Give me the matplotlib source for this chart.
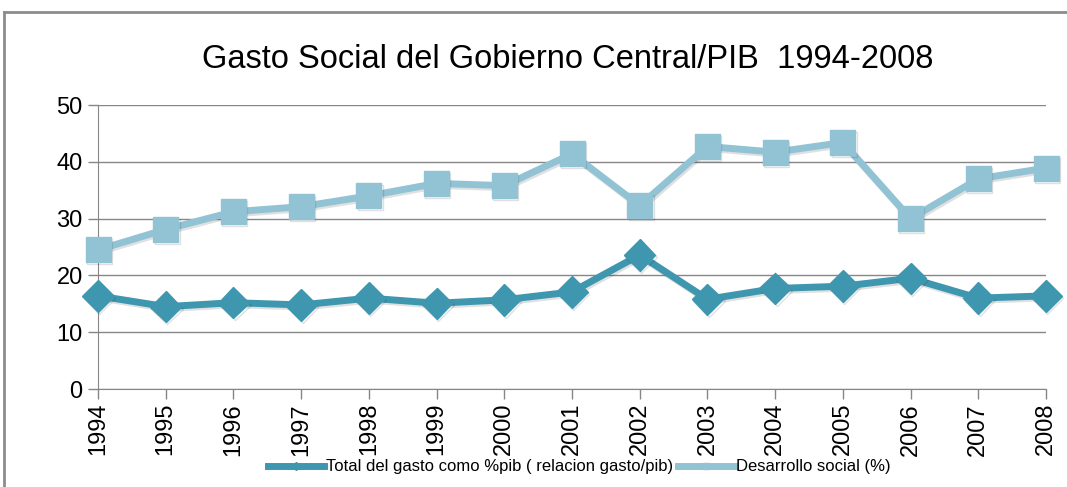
import matplotlib
matplotlib.use("Agg")
import matplotlib.pyplot as plt
import matplotlib.patheffects as pe
from matplotlib.lines import Line2D

years = list(range(1994, 2009))
total_gasto = [16.4, 14.5, 15.2, 14.8, 16.0, 15.1, 15.7, 17.1, 23.6, 15.8, 17.7, 18.1, 19.5, 16.0, 16.4]
desarrollo = [24.5, 28.1, 31.2, 32.1, 34.0, 36.2, 35.8, 41.4, 32.3, 42.7, 41.7, 43.4, 30.0, 37.0, 38.9]
yticks = [0, 10, 20, 30, 40, 50]

labels = ["Total del gasto como %pib ( relacion gasto/pib)", "Desarrollo social (%)"]
c_dark = "#3f97af"
c_light = "#92c3d5"
plt.rcParams["font.family"] = ["Liberation Sans Narrow", "Liberation Sans", "DejaVu Sans"]

fig = plt.figure(figsize=(10.67, 4.87), dpi=100)
ax = fig.add_axes([98 / 1067, 1 - 389 / 487, (1046 - 98) / 1067, (389 - 105) / 487])

shadow = [pe.SimpleLineShadow(offset=(1, -1.5), alpha=0.12, shadow_color="black"), pe.Normal()]
ax.plot(years, desarrollo, color=c_light, lw=5, marker="s", ms=18, mec=c_light,
        clip_on=False, zorder=3, path_effects=shadow)
ax.plot(years, total_gasto, color=c_dark, lw=5, marker="D", ms=16, mec=c_dark,
        clip_on=False, zorder=4, path_effects=shadow)

ax.set_xlim(years[0], years[-1])
ax.set_ylim(0, 50)
ax.set_yticks(yticks)
ax.set_xticks(years)
ax.set_xticklabels([str(y) for y in years], rotation=90, fontsize=17)
ax.tick_params(axis="y", labelsize=17, length=7, color="#868686", width=1, pad=4)
ax.tick_params(axis="x", length=7, color="#868686", width=1, pad=3)
ax.grid(axis="y", color="#868686", lw=1)
ax.set_axisbelow(True)
for s in ["top", "right"]:
    ax.spines[s].set_visible(False)
for s in ["left", "bottom"]:
    ax.spines[s].set_color("#868686")

fig.text(0.532, 1 - 60 / 487, "Gasto Social del Gobierno Central/PIB  1994-2008", ha="center",
         va="center", fontsize=23.5)

handles = [Line2D([], [], color=c_dark, lw=5, marker="D", ms=4),
           Line2D([], [], color=c_light, lw=5, marker="s", ms=4)]
fig.legend(handles, labels, loc="center", bbox_to_anchor=(0.543, 1 - 467 / 487), ncol=2,
           frameon=False, fontsize=12, handlelength=3.4, handletextpad=0.1, columnspacing=0.3)

# outer chart border (top and left visible)
fig.add_artist(Line2D([4 / 1067, 1], [1 - 12 / 487, 1 - 12 / 487], color="#8c8c8c", lw=2,
                      transform=fig.transFigure))
fig.add_artist(Line2D([4 / 1067, 4 / 1067], [0, 1 - 12 / 487], color="#8c8c8c", lw=2,
                      transform=fig.transFigure))

fig.savefig("out.png", dpi=100)
